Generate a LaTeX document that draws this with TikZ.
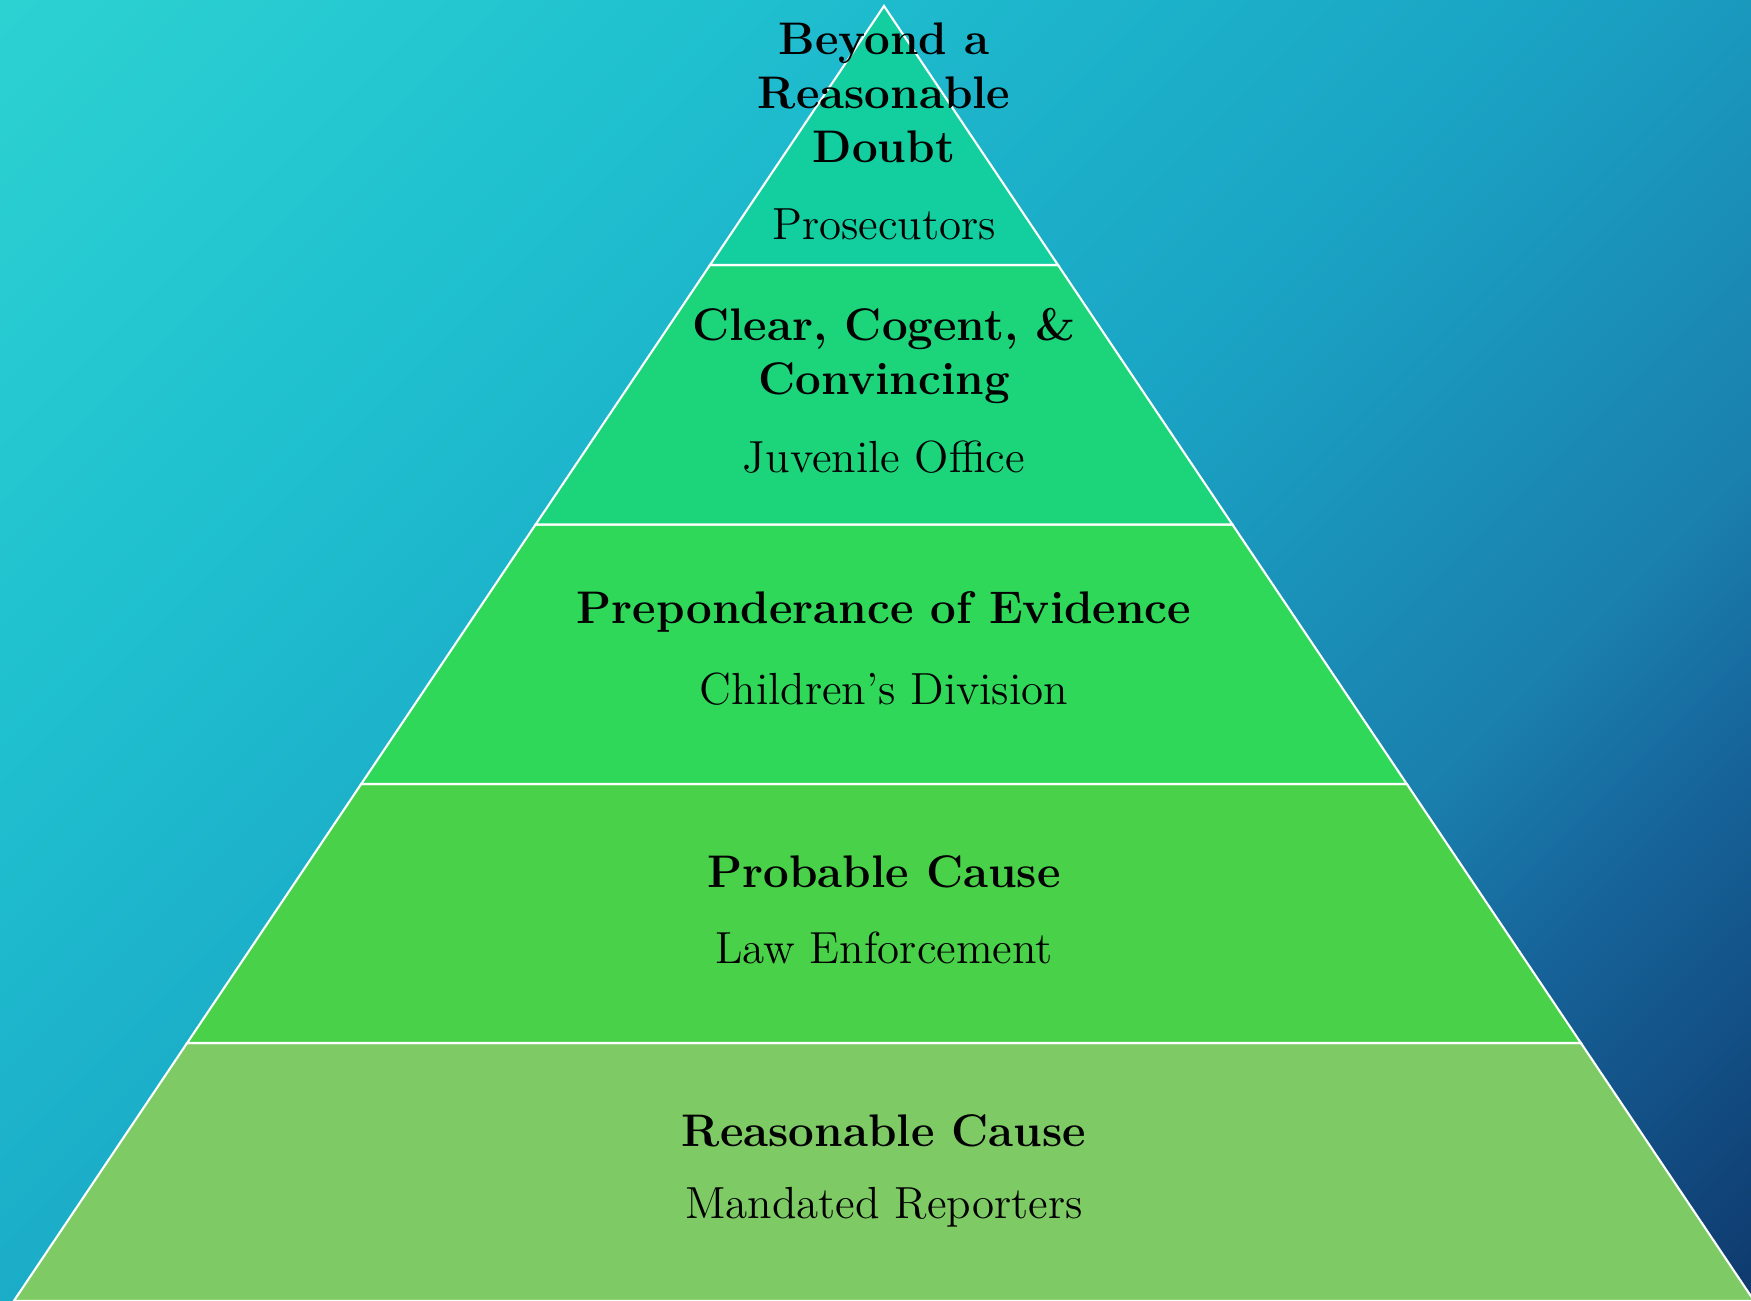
\documentclass[tikz,border=0pt]{standalone}
\usepackage{tikz}

\definecolor{bgA}{HTML}{2CD2D2}
\definecolor{bgB}{HTML}{1FBFCF}
\definecolor{bgC}{HTML}{1AA5C5}
\definecolor{bgD}{HTML}{1A7FAD}
\definecolor{bgE}{HTML}{16649A}
\definecolor{bgF}{HTML}{0F3A6E}
\definecolor{tierA}{HTML}{13CE9F}
\definecolor{tierB}{HTML}{1CD57B}
\definecolor{tierC}{HTML}{30D85A}
\definecolor{tierD}{HTML}{4AD14A}
\definecolor{tierE}{HTML}{7ECB65}

\pgfdeclarehorizontalshading{bgshade}{100bp}{color(0bp)=(bgA); color(14.64bp)=(bgA); color(32.3bp)=(bgB); color(50bp)=(bgC); color(66.3bp)=(bgD); color(72.6bp)=(bgE); color(85.36bp)=(bgF); color(100bp)=(bgF)}

\tikzset{
  tier/.style={draw=white, line width=0.6pt, line join=miter},
  title/.style={align=center, font=\fontsize{13}{15.3}\selectfont\bfseries},
  who/.style={font=\fontsize{12.8}{15.4}\selectfont},
}

\begin{document}
\begin{tikzpicture}
            % background, 17.51 x 13.01
            \shade[shading=bgshade, shading angle=-45] (0, 0) rectangle (17.51, 13.01);
            \useasboundingbox (0, 0) rectangle (17.51, 13.01);
            % the five tiers
            \draw[tier, fill=tierE] (0.138, 0) -- (17.542, 0) -- (15.809, 2.58) -- (1.871, 2.58) -- cycle;
            \draw[tier, fill=tierD] (1.871, 2.58) -- (15.809, 2.58) -- (14.068, 5.17) -- (3.612, 5.17) -- cycle;
            \draw[tier, fill=tierC] (3.612, 5.17) -- (14.068, 5.17) -- (12.324, 7.765) -- (5.356, 7.765) -- cycle;
            \draw[tier, fill=tierB] (5.356, 7.765) -- (12.324, 7.765) -- (10.58, 10.36) -- (7.10, 10.36) -- cycle;
            \draw[tier, fill=tierA] (7.10, 10.36) -- (10.58, 10.36) -- (8.84, 12.95) -- cycle;
            % labels
            \node[title] (doubt) at (8.84, 12.08) {Beyond a\\Reasonable\\Doubt};
            \node[who] (prosecutors) at (8.84, 10.77) {Prosecutors};
            \node[title] (cogent) at (8.84, 9.45) {Clear, Cogent, \&\\Convincing};
            \node[who] (juvenile) at (8.84, 8.44) {Juvenile Office};
            \node[title] (evidence) at (8.84, 6.89) {Preponderance of Evidence};
            \node[who] (division) at (8.84, 6.12) {Children's Division};
            \node[title] (probable) at (8.84, 4.29) {Probable Cause};
            \node[who] (police) at (8.84, 3.53) {Law Enforcement};
            \node[title] (reasonable) at (8.84, 1.70) {Reasonable Cause};
            \node[who] (reporters) at (8.84, 0.94) {Mandated Reporters};
        \end{tikzpicture}
\end{document}
